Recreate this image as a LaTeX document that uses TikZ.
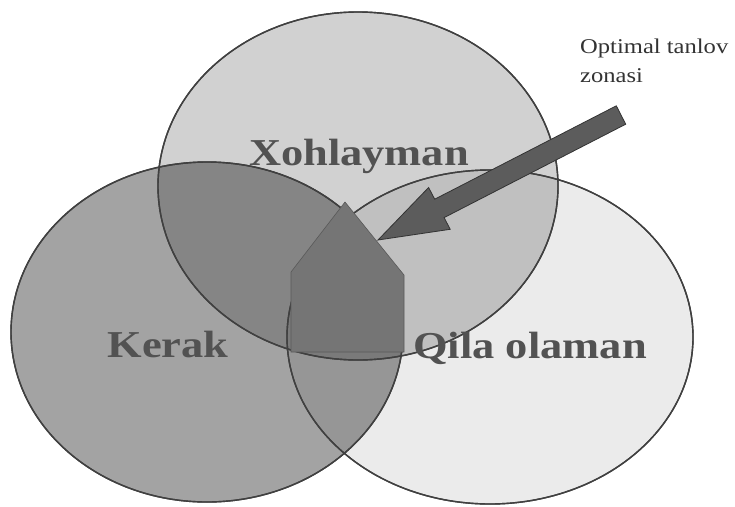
\documentclass[tikz,border=0pt]{standalone}
\usepackage{fontspec}
\setmainfont{Liberation Serif}
\begin{document}
\begin{tikzpicture}[x=1pt,y=-1pt,
  venn/.style={draw=black!75, line width=1.4pt, fill=black},
  biglabel/.style={text=black!68, font=\fontsize{38}{40}\selectfont\bfseries, inner sep=0pt},
  smalllabel/.style={text=black!80, font=\fontsize{21}{24}\selectfont, inner sep=0pt},
  zone/.style={draw=black!65, line width=0.6pt, fill=black!54},
  pointer/.style={draw=black!80, line width=0.8pt, fill=black!64, line join=miter}]
\useasboundingbox[fill=white] (0,0) rectangle (735,506);
% ellipses
\path[venn, fill opacity=0.36] (207,332) ellipse [x radius=196pt, y radius=170pt];
\path[venn, fill opacity=0.18] (358,186) ellipse [x radius=200pt, y radius=174pt];
\path[venn, fill opacity=0.08] (490,337) ellipse [x radius=203pt, y radius=167pt];
% outlines again on top (visible through)
\draw[draw=black!75, line width=1.4pt] (207,332) ellipse [x radius=196pt, y radius=170pt];
\draw[draw=black!75, line width=1.4pt] (358,186) ellipse [x radius=200pt, y radius=174pt];
\draw[draw=black!75, line width=1.4pt] (490,337) ellipse [x radius=203pt, y radius=167pt];
% optimal zone
\draw[zone] (345,202) coordinate (apex) -- (404,275) -- (404,352) -- (291,352) -- (291,272) -- cycle;
% arrow
\draw[pointer] (378,240) coordinate (tip) -- (450.2,229.3) -- (444.1,217.6) -- (625.7,124.2)
  -- (616.3,105.8) -- (434.7,199.2) -- (428.6,187.5) -- cycle;
% labels
\node[biglabel, anchor=base] (want) at (359,165) {\scalebox{1.17}[1]{Xohlayman}};
\node[biglabel, anchor=base] (need) at (168,357) {\scalebox{1.17}[1]{Kerak}};
\node[biglabel, anchor=base] (can) at (530,358) {\scalebox{1.17}[1]{Qila olaman}};
\node[smalllabel, anchor=base west] (opt1) at (580,53) {\scalebox{1.17}[1]{Optimal tanlov}};
\node[smalllabel, anchor=base west] (opt2) at (580,82) {\scalebox{1.17}[1]{zonasi}};
\end{tikzpicture}
\end{document}
